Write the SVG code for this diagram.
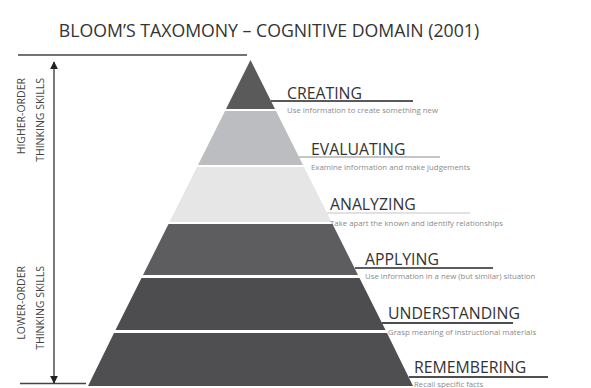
<svg xmlns="http://www.w3.org/2000/svg" width="591" height="388" viewBox="0 0 591 388">
<style>
.title{font-family:"Open Sans","Liberation Sans",sans-serif;font-size:17.7px;fill:#333}
.lbl{font-family:"Open Sans","Liberation Sans",sans-serif;font-size:15.8px;fill:#333}
.desc{font-family:"Open Sans","Liberation Sans",sans-serif;font-size:7.8px;fill:#8a8a8a}
.side{font-family:"Open Sans","Liberation Sans",sans-serif;font-size:10.5px;fill:#444}
.rule{stroke:#444;stroke-width:1.5}
</style>
<defs>
<marker id="ah" viewBox="0 0 10 10" refX="9" refY="5" markerWidth="8" markerHeight="8" orient="auto-start-reverse" markerUnits="userSpaceOnUse">
<path d="M0,0 L10,5 L0,10 z" fill="#222"/>
</marker>
</defs>
<rect width="591" height="388" fill="#fff"/>
<text class="title" x="269" y="37" text-anchor="middle">BLOOM’S TAXOMONY – COGNITIVE DOMAIN (2001)</text>

<g id="scale">
<line class="rule" x1="18" y1="55" x2="247" y2="55"/>
<line class="rule" x1="20" y1="383.5" x2="86" y2="383.5"/>
<line x1="54" y1="62" x2="54" y2="383" stroke="#333" stroke-width="1.3" marker-start="url(#ah)" marker-end="url(#ah)"/>
<text class="side" transform="translate(25,78) rotate(-90)" text-anchor="end">HIGHER-ORDER</text>
<text class="side" transform="translate(44,78) rotate(-90)" text-anchor="end">THINKING SKILLS</text>
<text class="side" transform="translate(25,266) rotate(-90)" text-anchor="end">LOWER-ORDER</text>
<text class="side" transform="translate(44,266) rotate(-90)" text-anchor="end">THINKING SKILLS</text>
</g>

<g id="creating">
<polygon points="250.5,60 275,109 226,109" fill="#5a5a5a"/>
<line x1="271" y1="101" x2="413" y2="101" stroke="#5a5a5a" stroke-width="2"/>
<text class="lbl" x="287" y="99">CREATING</text>
<text class="desc" x="287" y="113">Use information to create something new</text>
</g>
<g id="evaluating">
<polygon points="225,111 276,111 303,165 198,165" fill="#bcbdc0"/>
<line x1="299" y1="157" x2="440" y2="157" stroke="#b0b2b6" stroke-width="1.5"/>
<text class="lbl" x="311" y="155">EVALUATING</text>
<text class="desc" x="311" y="170">Examine information and make judgements</text>
</g>
<g id="analyzing">
<polygon points="197,167 304,167 331.5,222 169.5,222" fill="#e6e6e7"/>
<line x1="327" y1="213" x2="470" y2="213" stroke="#d8d8d8" stroke-width="1.5"/>
<text class="lbl" x="330" y="210">ANALYZING</text>
<text class="desc" x="330" y="226">Take apart the known and identify relationships</text>
</g>
<g id="applying">
<polygon points="168.5,224 332.5,224 358,275 143,275" fill="#5d5d60"/>
<line x1="355" y1="268" x2="493" y2="268" stroke="#5d5d60" stroke-width="2"/>
<text class="lbl" x="365" y="265">APPLYING</text>
<text class="desc" x="365" y="279">Use information in a new (but similar) situation</text>
</g>
<g id="understanding">
<polygon points="141.5,278 359.5,278 385.5,330 115.5,330" fill="#4d4d4f"/>
<line x1="382" y1="323" x2="513" y2="323" stroke="#4d4d4f" stroke-width="2"/>
<text class="lbl" x="388" y="319">UNDERSTANDING</text>
<text class="desc" x="388" y="335">Grasp meaning of instructional materials</text>
</g>
<g id="remembering">
<polygon points="114,333 387,333 413,386 88,386" fill="#4f4f51"/>
<line x1="409" y1="377" x2="548" y2="377" stroke="#4f4f51" stroke-width="2"/>
<text class="lbl" x="414" y="373">REMEMBERING</text>
<text class="desc" x="414" y="386.5">Recall specific facts</text>
</g>
</svg>
